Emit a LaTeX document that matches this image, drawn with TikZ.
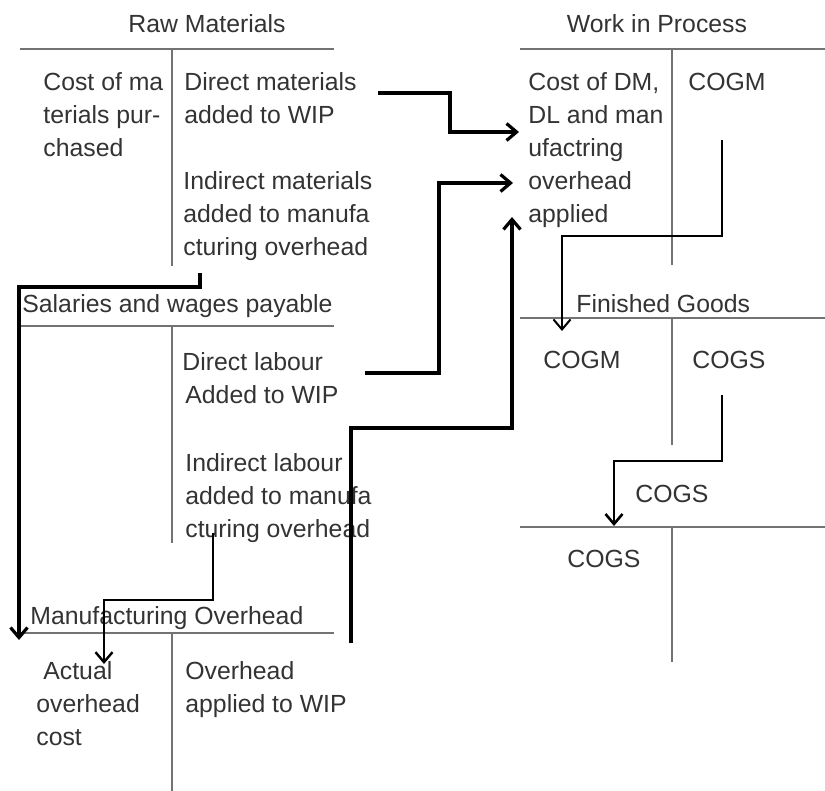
\documentclass[tikz,border=0pt]{standalone}
\usepackage{fontspec}
\setmainfont{Liberation Sans}
\usetikzlibrary{arrows.meta}

\begin{document}
\begin{tikzpicture}[x=0.5pt, y=-0.5pt,
    every node/.style={inner sep=0pt, text=black!80, align=left, anchor=base west,
        font=\fontsize{12.4}{16.5}\selectfont},
    tline/.style={draw=black!55, line width=0.8pt},
    flow/.style={draw=black, line width=1.6pt,
        -{Straight Barb[length=5pt, width=8.5pt]}}]
    \useasboundingbox (0,0) rectangle (825,791);

    % Raw Materials (multi-line nodes sit on the baseline of their last line)
    \begin{scope}[shift={(20,49)}]
        \node[anchor=base] (rmTitle) at (187,-16) {Raw Materials};
        \draw[tline] (0,0) -- (314,0);
        \draw[tline] (152,0) -- (152,217);
        \node (rmDebit) at (23,108) {Cost of ma\\terials pur-\\chased};
        \node (rmDM) at (164,75) {Direct materials\\added to WIP};
        \node (rmIM) at (163,207) {Indirect materials\\added to manufa\\cturing overhead};
    \end{scope}

    % Work in Process
    \begin{scope}[shift={(520,49)}]
        \node[anchor=base] (wipTitle) at (137,-16) {Work in Process};
        \draw[tline] (0,0) -- (305,0);
        \draw[tline] (152,0) -- (152,216);
        \node (wipDebit) at (8,174) {Cost of DM,\\DL and man\\ufactring\\overhead\\applied};
        \node (wipCOGM) at (168,42) {COGM};
    \end{scope}

    % Salaries and wages payable
    \begin{scope}[shift={(20,326)}]
        \node (swTitle) at (2,-13) {Salaries and wages payable};
        \draw[tline] (0,0) -- (314,0);
        \draw[tline] (152,0) -- (152,217);
        \node (swDL) at (162,77) {Direct labour\\\hspace{1.5pt}Added to WIP};
        \node (swIL) at (165,211) {Indirect labour\\added to manufa\\cturing overhead};
    \end{scope}

    % Finished Goods
    \begin{scope}[shift={(520,318)}]
        \node (fgTitle) at (56,-5) {Finished Goods};
        \draw[tline] (0,0) -- (305,0);
        \draw[tline] (152,0) -- (152,127);
        \node (fgCOGM) at (23,51) {COGM};
        \node (fgCOGS) at (172,51) {COGS};
    \end{scope}

    % COGS
    \begin{scope}[shift={(520,527)}]
        \node (cgTitle) at (115,-25) {COGS};
        \draw[tline] (0,0) -- (305,0);
        \draw[tline] (152,0) -- (152,135);
        \node (cgDebit) at (47,40) {COGS};
    \end{scope}

    % Manufacturing Overhead
    \begin{scope}[shift={(20,633)}]
        \node (moTitle) at (10,-9) {Manufacturing Overhead};
        \draw[tline] (0,0) -- (314,0);
        \draw[tline] (152,0) -- (152,158);
        \node (moDebit) at (16,112) {\hspace{3.5pt}Actual\\overhead\\cost};
        \node (moCredit) at (165,79) {Overhead\\applied to WIP};
    \end{scope}

    % flows between the accounts
    \coordinate (dmOut) at (378,93);
    \coordinate (wipInA) at (519,132);
    \coordinate (dlOut) at (365,373);
    \coordinate (wipInB) at (513,183);
    \coordinate (moOut) at (351,643);
    \coordinate (wipInC) at (512,217);
    \coordinate (cogmOut) at (722,140);
    \coordinate (fgIn) at (562,331);
    \coordinate (cogsOut) at (722,395);
    \coordinate (cgIn) at (614,526);
    \coordinate (imOut) at (200,273);
    \coordinate (moInA) at (19,640);
    \coordinate (ilOut) at (213,533);
    \coordinate (moInB) at (104,664);

    \draw[flow] (dmOut) -- ++(72,0) |- (wipInA);
    \draw[flow] (dlOut) -- ++(74,0) |- (wipInB);
    \draw[flow] (moOut) -- ++(0,-215) -| (wipInC);
    \draw[flow, line width=1pt] (cogmOut) -- ++(0,96) -| (fgIn);
    \draw[flow, line width=1.3pt] (cogsOut) -- ++(0,66) -| (cgIn);
    \draw[flow] (imOut) -- ++(0,14) -| (moInA);
    \draw[flow, line width=1.2pt] (ilOut) -- ++(0,67) -| (moInB);

\end{tikzpicture}
\end{document}
